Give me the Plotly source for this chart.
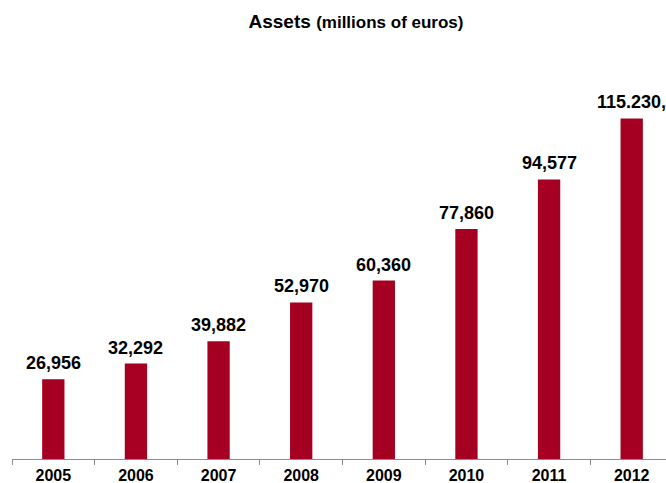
import plotly.graph_objects as go

years = ["2005", "2006", "2007", "2008", "2009", "2010", "2011", "2012"]
assets = [26956, 32292, 39882, 52970, 60360, 77860, 94577, 115230]
value_labels = ["26,956", "32,292", "39,882", "52,970", "60,360", "77,860", "94,577", "115.230,"]

BAR_COLOR = "#A50021"
AXIS_GRAY = "#8C8C8C"
FONT = "Liberation Sans, Arial, sans-serif"

fig = go.Figure(
    go.Bar(
        x=years,
        y=assets,
        width=0.27,
        marker=dict(color=BAR_COLOR, line=dict(width=0)),
        hoverinfo="skip",
    )
)

# value labels above each bar (category axis -> position by index)
for i, (val, lab) in enumerate(zip(assets, value_labels)):
    fig.add_annotation(
        x=i, y=val, text=lab, showarrow=False,
        xanchor="center", yanchor="bottom", yshift=4,
        font=dict(family=FONT, size=18, color="black", weight="bold"),
    )

fig.update_layout(
    width=666,
    height=483,
    margin=dict(l=12, r=0, t=60, b=24),
    paper_bgcolor="white",
    plot_bgcolor="white",
    showlegend=False,
    title=dict(
        text="<b>Assets</b> <b><span style='font-size:17px'>(millions of euros)</span></b>",
        font=dict(family=FONT, size=19, color="black"),
        xref="container", yref="container",
        x=356 / 666, xanchor="center",
        y=1 - 21 / 483, yanchor="middle",
    ),
    xaxis=dict(
        type="category",
        range=[-0.5, 7.415],
        automargin=False,
        showline=True, linecolor=AXIS_GRAY, linewidth=1,
        ticks="outside", tickson="boundaries", ticklen=5,
        tickcolor=AXIS_GRAY, tickwidth=1,
        ticklabelstandoff=2,
        showgrid=False, zeroline=False,
        tickfont=dict(family=FONT, size=16, color="black", weight="bold"),
    ),
    yaxis=dict(visible=False, range=[0, 135000], showgrid=False, zeroline=False),
)

fig.write_html("out.html")
